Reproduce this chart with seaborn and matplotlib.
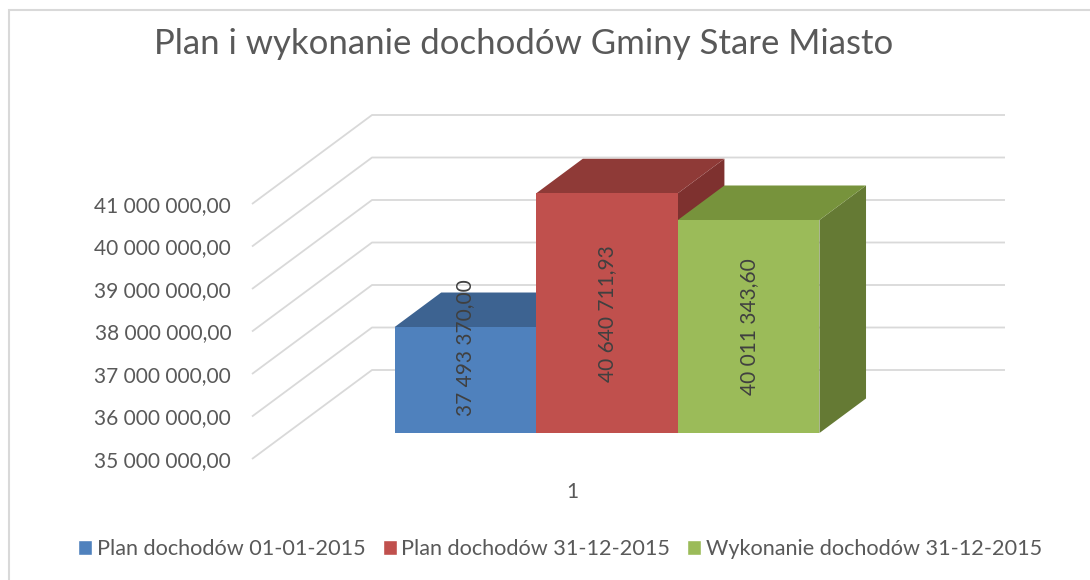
import matplotlib.pyplot as plt
import matplotlib.patches as mpatches
import pandas as pd
import seaborn as sns

# dane z wykresu
serie = ["Plan dochodów 01-01-2015", "Plan dochodów 31-12-2015", "Wykonanie dochodów 31-12-2015"]
wartosci = [37493370.00, 40640711.93, 40011343.60]
kategoria = ["1", "1", "1"]
os_y = [35e6, 36e6, 37e6, 38e6, 39e6, 40e6, 41e6]

# kolory: przod / gora / bok slupka
kolory_przod = ["#4F81BD", "#C0504D", "#9BBB59"]
kolory_gora = ["#3D6391", "#8F3A37", "#77933C"]
kolory_bok = ["#34557F", "#7E312F", "#657A34"]

df = pd.DataFrame({"kategoria": kategoria, "seria": serie, "wartosc": wartosci})

sns.set_style("white")
plt.rcParams["font.family"] = ["Lato", "DejaVu Sans"]

szary = "#595959"

fig = plt.figure(figsize=(10.9, 5.8), dpi=100)
ax = fig.add_axes([252 / 1090, 110 / 580, 753 / 1090, 370 / 580])

sns.barplot(data=df, x="kategoria", y="wartosc", hue="seria", hue_order=serie,
            palette=kolory_przod, saturation=1, errorbar=None, ax=ax)
# tylko prawdziwe slupki, od lewej do prawej
bars = sorted([p for p in ax.patches if p.get_height() > 0 and p.get_width() > 0],
              key=lambda p: p.get_x())

ax.set_xlim(-0.6026, 0.8154)
ax.set_ylim(34.741e6, 43.447e6)

# przesuniecie glebokosci (perspektywa 3D)
DX = 0.226
DY = 2.094e6
f0, f1 = 0.292, 0.68
base = os_y[0]

# siatka: skosne linie + tylna sciana
lewo, prawo = ax.get_xlim()
for v in os_y:
    ax.plot([lewo, lewo + DX, prawo], [v, v + DY, v + DY], color="#D9D9D9",
            lw=1.3, zorder=0, clip_on=False, solid_capstyle="butt")

for i, p in enumerate(bars):
    x0 = p.get_x()
    w = p.get_width()
    v = p.get_height()
    z = 2 + i * 3
    bok = [(x0 + w + f0 * DX, base + f0 * DY), (x0 + w + f0 * DX, v + f0 * DY),
           (x0 + w + f1 * DX, v + f1 * DY), (x0 + w + f1 * DX, base + f1 * DY)]
    gora = [(x0 + f0 * DX, v + f0 * DY), (x0 + w + f0 * DX, v + f0 * DY),
            (x0 + w + f1 * DX, v + f1 * DY), (x0 + f1 * DX, v + f1 * DY)]
    ax.add_patch(mpatches.Polygon(bok, closed=True, facecolor=kolory_bok[i],
                                  edgecolor="none", zorder=z))
    ax.add_patch(mpatches.Polygon(gora, closed=True, facecolor=kolory_gora[i],
                                  edgecolor="none", zorder=z + 1))
    p.set_x(x0 + f0 * DX)
    p.set_y(base + f0 * DY)
    p.set_height(v - base)
    p.set_edgecolor("none")
    p.set_zorder(z + 2)

    srodek = (base + v) / 2 + f0 * DY
    y_txt = max(srodek, base + f0 * DY + 2.0e6)
    tekst = f"{v:,.2f}".replace(",", " ").replace(".", ",")
    ax.text(x0 + f0 * DX + w / 2, y_txt, tekst, rotation=90, ha="center",
            va="center", fontsize=15, color="#404040", zorder=20)

ax.set_yticks(os_y)
ax.set_yticklabels([f"{v:,.2f}".replace(",", " ").replace(".", ",") for v in os_y])
ax.tick_params(axis="y", length=0, pad=15, labelsize=15, labelcolor=szary)
ax.tick_params(axis="x", length=0, pad=9, labelsize=15, labelcolor=szary)
ax.set_xlabel("")
ax.set_ylabel("")
sns.despine(ax=ax, left=True, bottom=True)

handles, labels = ax.get_legend_handles_labels()
if ax.get_legend() is not None:
    ax.get_legend().remove()
fig.legend(handles, labels, loc="center", bbox_to_anchor=(560 / 1090, 1 - 549 / 580),
           ncol=3, frameon=False, fontsize=15.6, handlelength=0.65, handleheight=0.65,
           handletextpad=0.2, columnspacing=0.8, labelcolor=szary)

fig.text(524 / 1090, 1 - 44 / 580, "Plan i wykonanie dochodów Gminy Stare Miasto",
         ha="center", va="center", fontsize=25, color=szary)

# ramka obszaru wykresu
fig.add_artist(mpatches.Rectangle((9 / 1090, -0.1), 1.2, 1 - 10 / 580 + 0.1,
                                  transform=fig.transFigure, fill=False,
                                  edgecolor="#D9D9D9", lw=1.5))

fig.savefig("out.png", dpi=100)
